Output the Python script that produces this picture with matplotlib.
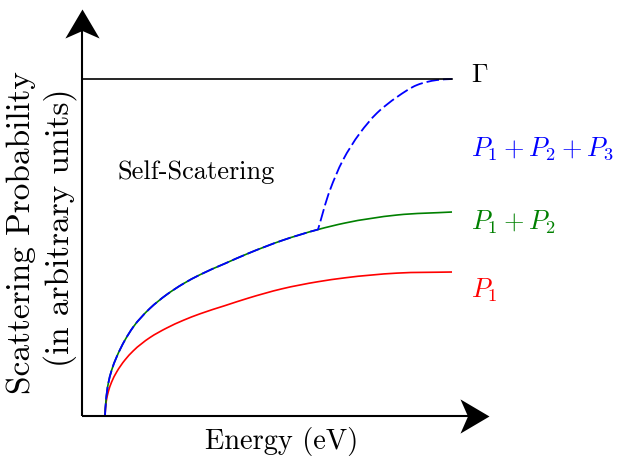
import matplotlib
matplotlib.use('Agg')
import matplotlib.pyplot as plt
import numpy as np
from matplotlib.path import Path
from matplotlib.patches import PathPatch

plt.rcParams['font.family'] = 'serif'
plt.rcParams['font.serif'] = ['cmr10']
plt.rcParams['mathtext.fontset'] = 'cm'
plt.rcParams['axes.unicode_minus'] = False

# energy grid (arbitrary units)
energy = [0.23, 0.24, 0.263, 0.297, 0.347, 0.43, 0.513, 0.68, 0.847, 1.013,
          1.18, 1.43, 1.66, 2.00, 2.36, 2.63, 3.15, 3.70]
p1 = [0.0, 0.13, 0.243, 0.342, 0.441, 0.561, 0.652, 0.785, 0.88, 0.957,
      1.022, 1.104, 1.178, 1.272, 1.343, 1.382, 1.429, 1.44]
p12 = [0.0, 0.16, 0.327, 0.46, 0.592, 0.76, 0.891, 1.077, 1.214, 1.323,
       1.413, 1.525, 1.625, 1.755, 1.865, 1.93, 2.01, 2.04]

# P1 + P2 + P3 above the P3 threshold, rising to Gamma
p123_energy = [2.36, 2.48, 2.61, 2.78, 2.95, 3.15, 3.35, 3.55, 3.70]
p123 = [1.865, 2.26, 2.56, 2.83, 3.03, 3.19, 3.31, 3.36, 3.37]

gamma = 3.37
threshold = energy.index(2.36)


def bezier_segments(xs, ys):
    # cubic pieces through every point; Bessel-weighted tangents for uneven spacing
    pts = np.column_stack([xs, ys]).astype(float)
    n = len(pts)
    chords = np.diff(pts, axis=0)
    h = np.hypot(chords[:, 0], chords[:, 1])
    u = chords / h[:, None]
    tang = np.zeros_like(pts)
    tang[0] = u[0]
    tang[-1] = u[-1]
    for i in range(1, n - 1):
        t = h[i] * u[i - 1] + h[i - 1] * u[i]
        tang[i] = t / np.hypot(*t)
    segs = []
    for i in range(n - 1):
        p0, p3 = pts[i], pts[i + 1]
        L = h[i] / 3
        segs.append((p0, p0 + tang[i] * L, p3 - tang[i + 1] * L, p3))
    return segs


def segs_to_path(segs):
    verts = [segs[0][0]]
    codes = [Path.MOVETO]
    for _, c1, c2, p in segs:
        verts += [c1, c2, p]
        codes += [Path.CURVE4] * 3
    return Path(verts, codes)


fig = plt.figure(figsize=(6.25, 4.57), dpi=100)
ax = fig.add_axes([0.1312, 0.0897, 0.6517, 0.8899])
ax.set_xlim(0, 4.073)
ax.set_ylim(0, 4.067)
ax.axis('off')

p1_segs = bezier_segments(energy, p1)
p12_segs = bezier_segments(energy, p12)
p123_segs = p12_segs[:threshold] + bezier_segments(p123_energy, p123)

ax.add_patch(PathPatch(segs_to_path(p1_segs), fill=False, edgecolor='#ff0000',
                       lw=1.2, clip_on=False))
ax.add_patch(PathPatch(segs_to_path(p12_segs), fill=False, edgecolor='#008000',
                       lw=1.2, clip_on=False))
ax.add_patch(PathPatch(segs_to_path(p123_segs), fill=False, edgecolor='#0000ff',
                       lw=1.3, linestyle=(0, (7, 2.2)), clip_on=False))
ax.plot([0, p123_energy[-1]], [gamma, gamma], color='black', lw=1.2)

# axes drawn as arrows with a stealth-style head
stealth_x = Path([(0, 0), (-1, 0.59), (-0.74, 0), (-1, -0.59), (0, 0)],
                 [Path.MOVETO, Path.LINETO, Path.LINETO, Path.LINETO, Path.CLOSEPOLY])
stealth_y = Path([(0, 0), (0.59, -1), (0, -0.74), (-0.59, -1), (0, 0)],
                 [Path.MOVETO, Path.LINETO, Path.LINETO, Path.LINETO, Path.CLOSEPOLY])
ax.plot([0, 0.99], [0, 0], color='black', lw=1.5, transform=ax.transAxes, clip_on=False,
        solid_capstyle='butt')
ax.plot([0, 0], [0, 0.99], color='black', lw=1.5, transform=ax.transAxes, clip_on=False,
        solid_capstyle='butt')
ax.plot(1, 0, marker=stealth_x, ms=41.8, color='black', mew=0,
        transform=ax.transAxes, clip_on=False)
ax.plot(0, 1, marker=stealth_y, ms=41.8, color='black', mew=0,
        transform=ax.transAxes, clip_on=False)

fs = 19
lx = 3.89
ax.text(lx, 3.41, r'$\Gamma$', fontsize=fs, va='center', ha='left', color='black')
ax.text(lx, 2.67, r'$P_1 + P_2 + P_3$', fontsize=fs, va='center', ha='left',
        color='#0000ff')
ax.text(lx, 1.935, r'$P_1 + P_2$', fontsize=fs, va='center', ha='left', color='#008000')
ax.text(lx, 1.26, r'$P_1$', fontsize=fs, va='center', ha='left', color='#ff0000')

ax.text(1.14, 2.44, 'Self-Scatering', fontsize=fs, va='center', ha='center')

fig.text(282 / 625, 1 - 441 / 457, 'Energy (eV)', fontsize=20.5, ha='center', va='center')
fig.text(21 / 625, 1 - 233 / 457, 'Scattering Probability', fontsize=24,
         ha='center', va='center', rotation=90)
fig.text(60 / 625, 1 - 228 / 457, '(in arbitrary units)', fontsize=24,
         ha='center', va='center', rotation=90)

fig.savefig('out.png', dpi=100)
